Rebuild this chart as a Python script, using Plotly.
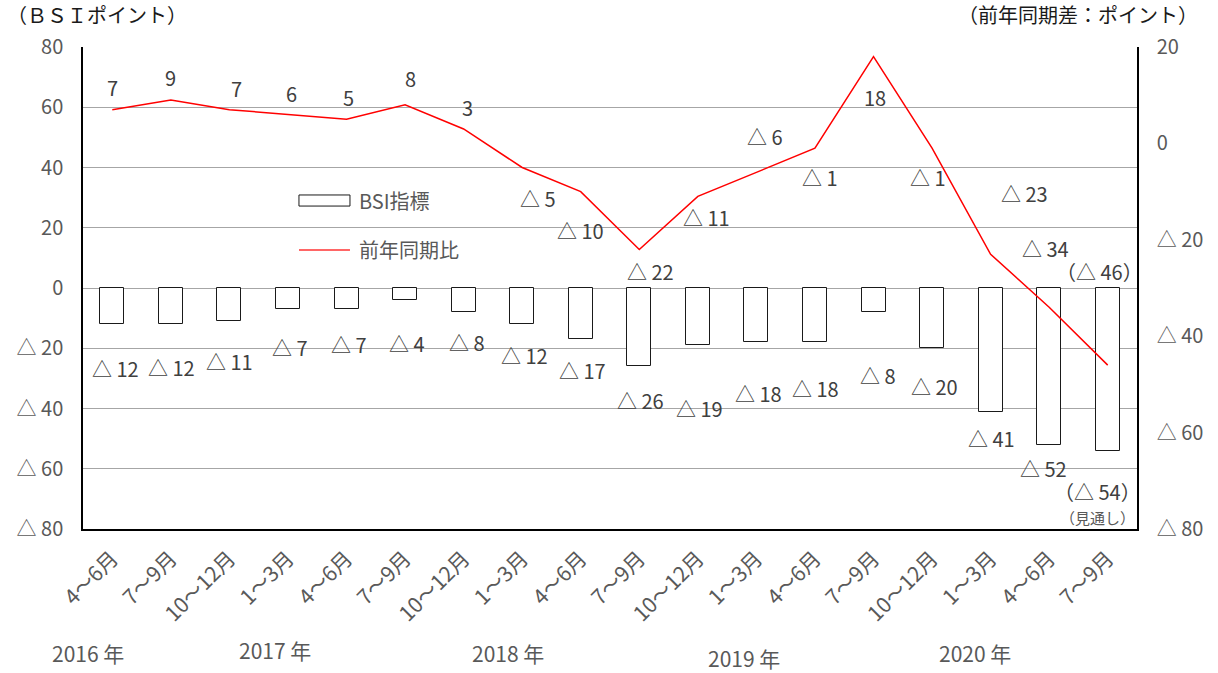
import plotly.graph_objects as go

# 四半期ごとの区分と年
periods = ["4～6月", "7～9月", "10～12月",
           "1～3月", "4～6月", "7～9月", "10～12月",
           "1～3月", "4～6月", "7～9月", "10～12月",
           "1～3月", "4～6月", "7～9月", "10～12月",
           "1～3月", "4～6月", "7～9月"]
years = ["2016 年", "2017 年", "2018 年", "2019 年", "2020 年"]
year_pos = [-0.41, 2.78, 6.76, 10.78, 14.74]
year_y = [-0.257, -0.25, -0.257, -0.267, -0.257]

# BSI指標（左軸）と前年同期比（右軸）
bsi = [-12, -12, -11, -7, -7, -4, -8, -12, -17, -26, -19, -18, -18, -8, -20, -41, -52, -54]
yoy = [7, 9, 7, 6, 5, 8, 3, -5, -10, -22, -11, -6, -1, 18, -1, -23, -34, -46]
forecast_note = "（見通し）"

# ラベルの表示位置の微調整（ピクセル, 右・下が正）
yoy_dx = [0, 0, 7, 4, 2, 5, 4, 16, 0, 11, 9, 9, 5, 1, -4, 34, -4, -8]
yoy_dy = [-22, -23, -21, -21, -22, -26, -21, 31, 39, 22, 21, -36, 29, 41, 29, -61, -59, -94]
bsi_dx = [3, 1, 0, 2, 2, 2, 3, 2, 2, 1, 2, 2, 1, 4, 2, 1, -6, -10]
bsi_dy = [44, 43, 40, 38, 35, 43, 30, 31, 31, 34, 63, 51, 46, 63, 38, 27, 24, 41]

FONT = "Noto Sans CJK JP"
TICK_COLOR = "#595959"
LABEL_COLOR = "#404040"


def fmt(v):
    return ("△ " + str(-v)) if v < 0 else str(v)


idx = list(range(len(periods)))
n = len(idx)

fig = go.Figure()
fig.add_trace(go.Bar(
    x=idx, y=bsi, width=0.41, name="BSI指標",
    marker=dict(color="white", line=dict(color="#1a1a1a", width=1)),
    showlegend=False,
))
fig.add_trace(go.Scatter(
    x=idx, y=yoy, yaxis="y2", mode="lines", name="前年同期比",
    line=dict(color="#ff0000", width=1.5),
    showlegend=False,
))

annotations = []
for i in idx:
    t = fmt(yoy[i])
    if i == n - 1:
        t = "（" + t + "）"
    annotations.append(dict(
        x=i, y=yoy[i], xref="x", yref="y2", text=t, showarrow=False,
        xshift=yoy_dx[i], yshift=-yoy_dy[i], yanchor="middle",
        font=dict(family=FONT, size=20, color=LABEL_COLOR),
    ))
    t = fmt(bsi[i])
    if i == n - 1:
        t = "（" + t + "）"
    annotations.append(dict(
        x=i, y=bsi[i], xref="x", yref="y", text=t, showarrow=False,
        xshift=bsi_dx[i], yshift=-bsi_dy[i], yanchor="middle",
        font=dict(family=FONT, size=20, color=LABEL_COLOR),
    ))
annotations.append(dict(
    x=n - 1, y=bsi[-1], xref="x", yref="y", text=forecast_note, showarrow=False,
    xshift=bsi_dx[-1], yshift=-(bsi_dy[-1] + 26), yanchor="middle",
    font=dict(family=FONT, size=15, color=TICK_COLOR),
))

for name, xp, yp in zip(years, year_pos, year_y):
    annotations.append(dict(
        x=xp, y=yp, xref="x", yref="paper", text=name, showarrow=False,
        yanchor="middle",
        font=dict(family=FONT, size=21, color=TICK_COLOR),
    ))

# 軸の単位
annotations.append(dict(
    x=-0.074, y=1.068, xref="paper", yref="paper", xanchor="left", yanchor="middle",
    text="（ＢＳＩポイント）", showarrow=False,
    font=dict(family=FONT, size=20, color="#1a1a1a"),
))
annotations.append(dict(
    x=1.0598, y=1.068, xref="paper", yref="paper", xanchor="right", yanchor="middle",
    text="（前年同期差：ポイント）", showarrow=False,
    font=dict(family=FONT, size=20, color="#1a1a1a"),
))

# 凡例
annotations.append(dict(
    x=0.26, y=0.681, xref="paper", yref="paper", xanchor="left", yanchor="middle",
    text="BSI指標", showarrow=False,
    font=dict(family=FONT, size=20, color=TICK_COLOR),
))
annotations.append(dict(
    x=0.26, y=0.579, xref="paper", yref="paper", xanchor="left", yanchor="middle",
    text="前年同期比", showarrow=False,
    font=dict(family=FONT, size=20, color=TICK_COLOR),
))
shapes = [
    dict(type="rect", xref="paper", yref="paper",
         x0=0.2049, x1=0.2533, y0=0.670, y1=0.693,
         line=dict(color="#1a1a1a", width=1), fillcolor="white"),
    dict(type="line", xref="paper", yref="paper",
         x0=0.2049, x1=0.2533, y0=0.579, y1=0.579,
         line=dict(color="#ff3333", width=1.5)),
]

left_ticks = list(range(-80, 81, 20))
right_ticks = list(range(-80, 21, 20))

fig.update_layout(
    width=1218, height=673,
    margin=dict(l=83, r=81, t=47, b=144),
    paper_bgcolor="white", plot_bgcolor="white",
    font=dict(family=FONT, color=TICK_COLOR),
    bargap=0,
    xaxis=dict(
        range=[-0.5, n - 0.5], tickvals=idx, ticktext=periods, tickangle=-45,
        showgrid=False, zeroline=False, showline=True, linecolor="#000000",
        linewidth=2, ticks="", ticklabelstandoff=7,
        tickfont=dict(family=FONT, size=21, color=TICK_COLOR),
    ),
    yaxis=dict(
        range=[-80, 80], tickvals=left_ticks, ticktext=[fmt(v) for v in left_ticks],
        showgrid=True, gridcolor="#a6a6a6", gridwidth=1, zeroline=False,
        showline=True, linecolor="#000000", linewidth=1.5, ticks="",
        ticklabelstandoff=14, tickfont=dict(family=FONT, size=20, color=TICK_COLOR),
    ),
    yaxis2=dict(
        range=[-80, 20], tickvals=right_ticks, ticktext=[fmt(v) for v in right_ticks],
        overlaying="y", side="right", showgrid=False, zeroline=False,
        showline=True, linecolor="#000000", linewidth=1.5, ticks="",
        ticklabelstandoff=14, tickfont=dict(family=FONT, size=20, color=TICK_COLOR),
    ),
    annotations=annotations,
    shapes=shapes,
)

fig.write_html("out.html")
